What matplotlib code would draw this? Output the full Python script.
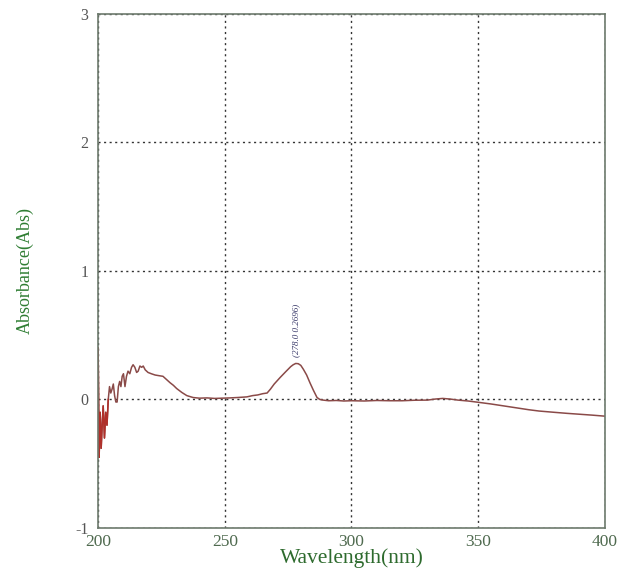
import matplotlib
matplotlib.use("Agg")
import matplotlib.pyplot as plt

wavelength = [200, 200.4, 200.8, 201.2, 201.6, 202, 202.5, 203, 203.5, 204, 204.5, 205, 205.5, 206,
              206.5, 207, 207.5, 208, 208.5, 209, 209.5, 210, 210.6, 211.2, 211.8, 212.5, 213.2, 213.8,
              214.5, 215.2, 215.8, 216.5, 217.2, 217.8, 218.6, 219.7, 221, 222.5, 224, 225.6, 227, 228.4,
              229.7, 231, 233, 235, 237.5, 240, 243, 246, 249, 252, 255, 258.7, 261, 263, 265, 266.7,
              268, 269.5, 271.8, 274, 276, 277, 278, 279, 280, 281, 282.3, 283.6, 285, 286.4, 287.5,
              288.8, 291, 294, 297, 300, 305, 310, 315, 320, 325, 330, 333, 336, 339, 342, 346, 350,
              355, 360, 365, 370, 374, 380, 385, 390, 395, 400]
absorbance = [0.4, -0.45, -0.1, -0.38, -0.2, -0.05, -0.3, -0.1, -0.2, 0.0, 0.1, 0.05, 0.08, 0.12,
              0.03, -0.02, -0.02, 0.1, 0.14, 0.1, 0.18, 0.2, 0.1, 0.18, 0.22, 0.2, 0.25, 0.27,
              0.25, 0.21, 0.22, 0.26, 0.25, 0.26, 0.23, 0.21, 0.2, 0.19, 0.185, 0.18, 0.155, 0.13,
              0.11, 0.085, 0.055, 0.03, 0.015, 0.01, 0.012, 0.008, 0.01, 0.012, 0.015, 0.02, 0.03, 0.035, 0.045, 0.05,
              0.08, 0.12, 0.17, 0.215, 0.255, 0.27, 0.28, 0.278, 0.265, 0.235, 0.19, 0.13, 0.07, 0.015, 0.0,
              -0.005, -0.01, -0.008, -0.012, -0.01, -0.012, -0.008, -0.01, -0.01, -0.006, -0.005, 0.003, 0.008, 0.003, -0.005, -0.012, -0.022,
              -0.035, -0.05, -0.065, -0.08, -0.09, -0.1, -0.108, -0.115, -0.122, -0.13]

xticks = [200, 250, 300, 350, 400]
yticks = [-1, 0, 1, 2, 3]
peak_label = "(278.0 0.2696)"
peak_x, peak_y = 278, 0.28

plt.rcParams['font.family'] = ['Liberation Serif', 'DejaVu Serif']
plt.rcParams['axes.unicode_minus'] = False

fig = plt.figure(figsize=(6.21, 5.73), dpi=100)
ax = fig.add_axes([0.158, 0.0785, 0.816, 0.8975])

ax.plot(wavelength, absorbance, color='#8a4a48', lw=1.1)
ax.plot(wavelength[:10], absorbance[:10], color='#b0302a', lw=1.1)
ax.set_xlim(200, 400)
ax.set_ylim(-1, 3)
ax.set_xticks(xticks)
ax.set_yticks(yticks)
ax.tick_params(length=0, pad=6)
ax.tick_params(axis='x', labelsize=12.5, colors='#4f6a4f', pad=4)
ax.tick_params(axis='y', labelsize=11.5, colors='#555555', pad=7)
for lbl in ax.get_yticklabels():
    lbl.set_verticalalignment('center_baseline')
ax.grid(True, color='#333333', linestyle=(0, (1.5, 2.5)), linewidth=1.0)
for s in ax.spines.values():
    s.set_color('#6d7a6d')
    s.set_linewidth(1.2)

ax.text(peak_x, peak_y + 0.05, peak_label, rotation=90, ha='center', va='bottom',
        fontsize=6.5, color='#3a3a6a', style='italic')

ax.set_xlabel('Wavelength(nm)', fontsize=15.5, color='#2e6b2e', labelpad=-1)
ax.set_ylabel('Absorbance(Abs)', fontsize=13, color='#2e7d32', labelpad=30)

fig.savefig('out.png', dpi=100)
